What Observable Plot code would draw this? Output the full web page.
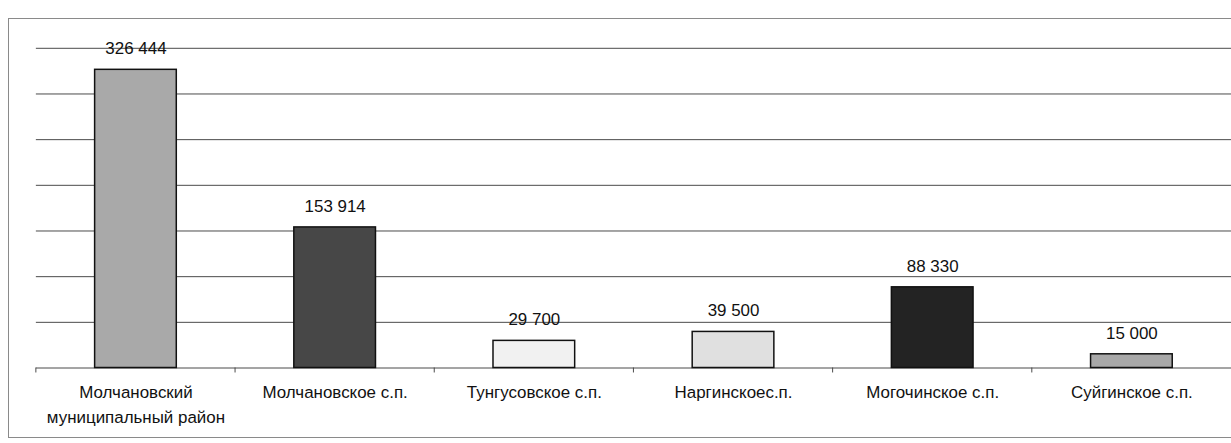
<!DOCTYPE html>
<html>
<head>
<meta charset="utf-8">
<script src="https://cdn.jsdelivr.net/npm/d3@7"></script>
<script src="https://cdn.jsdelivr.net/npm/@observablehq/plot@0.6"></script>
<style>
  html, body { margin: 0; padding: 0; background: #fff; overflow: hidden; width: 1231px; height: 443px; }
  #frame { position: absolute; left: 8px; top: 18px; width: 1250px; height: 418px; border: 1px solid #8a8a8a; }
  #chart { position: absolute; left: 0; top: 0; }
</style>
</head>
<body>
<div id="frame"></div>
<div id="chart"></div>
<script>
const categories = [
  "Молчановский\nмуниципальный район",
  "Молчановское с.п.",
  "Тунгусовское с.п.",
  "Наргинскоес.п.",
  "Могочинское с.п.",
  "Суйгинское с.п."
];
const values = [326444, 153914, 29700, 39500, 88330, 15000];
const fills = ["#a9a9a9", "#474747", "#f1f1f1", "#e0e0e0", "#232323", "#a8a8a8"];
const gridTicks = [50000, 100000, 150000, 200000, 250000, 300000, 350000];

const data = categories.map((c, i) => ({category: c, value: values[i], fill: fills[i]}));
const fmt = d3.formatLocale({thousands: " ", grouping: [3], decimal: ","}).format(",");

const font = "'Liberation Sans', Arial, sans-serif";

const plot = Plot.plot({
  width: 1236,
  height: 443,
  marginLeft: 36,
  marginRight: 0,
  marginTop: 48,
  marginBottom: 74,
  style: {fontFamily: font, fontSize: "17px", color: "#111", background: "transparent", overflow: "visible"},
  x: {domain: categories, paddingInner: 0.59, paddingOuter: 0.295, label: null},
  y: {domain: [0, 350000], label: null, axis: null},
  marks: [
    Plot.gridY(gridTicks, {stroke: "#4a4a4a", strokeOpacity: 1, strokeWidth: 1}),
    Plot.ruleY([0], {stroke: "#4a4a4a", strokeWidth: 1}),
    Plot.barY(data, {x: "category", y: "value", fill: "fill", stroke: "#111", strokeWidth: 1.5}),
    Plot.text(data, {x: "category", y: "value", text: d => fmt(d.value), dy: -21, fontSize: 17, fill: "#111"}),
    Plot.axisX({tickSize: 0, tickPadding: 13, fontSize: 17, lineHeight: 1.45, fill: "#111", label: null})
  ]
});

// boundary tick marks under the baseline, placed through the x and y scales
const xs = plot.scale("x");
const ys = plot.scale("y");
const step = xs.step;
const y0 = ys.apply(0);
const svg = d3.select(plot);
const boundaries = categories.map(c => xs.apply(c) - (step - xs.bandwidth) / 2);
svg.append("g")
  .selectAll("line")
  .data(boundaries)
  .join("line")
  .attr("x1", d => d).attr("x2", d => d)
  .attr("y1", y0).attr("y2", y0 + 5)
  .attr("stroke", "#4a4a4a").attr("stroke-width", 1);

document.getElementById("chart").appendChild(plot);
</script>
</body>
</html>
